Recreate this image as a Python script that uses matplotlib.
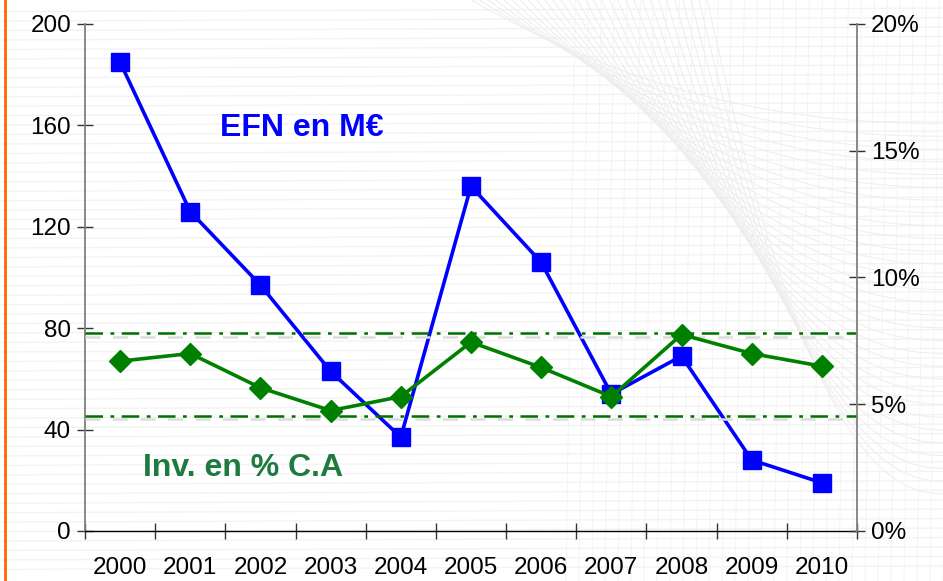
import numpy as np
import matplotlib
matplotlib.use("Agg")
import matplotlib.pyplot as plt
from matplotlib.ticker import FixedLocator, FuncFormatter

plt.rcParams['font.family'] = ['Liberation Sans', 'DejaVu Sans']

years = ['2000', '2001', '2002', '2003', '2004', '2005', '2006', '2007', '2008', '2009', '2010']
efn = [185, 126, 97, 63, 37, 136, 106, 54, 69, 28, 19]
inv_pct = [6.7, 7.0, 5.65, 4.75, 5.3, 7.45, 6.45, 5.3, 7.75, 7.0, 6.5]
band = [7.8, 4.55]
left_ticks = [0, 40, 80, 120, 160, 200]
right_ticks = [0, 5, 10, 15, 20]

fig = plt.figure(figsize=(9.43, 5.81), dpi=100)
fig.patch.set_facecolor('white')

# faint background mesh decoration
bg = fig.add_axes([0, 0, 1, 1], zorder=-10)
bg.set_xlim(0, 1); bg.set_ylim(0, 1); bg.axis('off')
t = np.linspace(0, 1, 200)
for yy in np.linspace(0.02, 0.98, 60):
    bg.plot([0.0, 1.0], [yy, yy + 0.006], color='#f3f3f3', lw=1.0)
for k in np.linspace(0.0, 1.0, 30):
    x0 = 0.50 + 0.25 * k
    xs = x0 + (1.0 - x0) * t
    ys = 1.0 - (0.25 + 0.75 * k) * (1 - (1 - t) ** 2.2) * 0.85
    bg.plot(xs, ys, color='#ededed', lw=0.7)
for k in np.linspace(0.6, 1.0, 30):
    bg.plot([k, k + 0.01], [0, 1.0], color='#f2f2f2', lw=0.6)
bg.plot([0.0055, 0.0055], [0, 1], color='#ff6600', lw=2.0)

ax = fig.add_axes([0.0901, 0.0861, 0.8187, 0.8726])
ax.patch.set_alpha(0)
x = np.arange(len(years))
ax.plot(x, efn, color='#0000ff', lw=2.6, marker='s', markersize=13,
        markerfacecolor='#0000ff', markeredgecolor='#0000ff', zorder=3)
ax.set_xlim(-0.5, len(years) - 0.5)
ax.set_ylim(0, 200)
ax.set_yticks(left_ticks)
ax.set_xticks(x)
ax.set_xticklabels(years)
ax.xaxis.set_minor_locator(FixedLocator(np.arange(-0.5, len(years), 1.0)))
ax.tick_params(axis='x', which='major', length=0, labelsize=17.5, pad=19)
ax.tick_params(axis='x', which='minor', length=12, direction='inout', width=1, color='#333333')
ax.tick_params(axis='y', length=12, direction='inout', width=1, color='#333333', labelsize=17.5, pad=4)
for s in ['top', 'right']:
    ax.spines[s].set_visible(False)
ax.spines['left'].set_color('#808080')
ax.spines['left'].set_linewidth(1.3)
ax.spines['bottom'].set_color('#000000')
ax.spines['bottom'].set_linewidth(1.0)

ax2 = ax.twinx()
ax2.set_ylim(0, 20)
ax2.set_yticks(right_ticks)
ax2.yaxis.set_major_formatter(FuncFormatter(lambda v, p: f"{int(v)}%"))
ax2.tick_params(axis='y', length=12, direction='inout', width=1, color='#333333', labelsize=17.5, pad=4)
for s in ['top', 'left', 'bottom']:
    ax2.spines[s].set_visible(False)
ax2.spines['right'].set_color('#808080')
ax2.spines['right'].set_linewidth(1.3)

for b in band:
    ax2.axhline(b - 0.15, color='#dcdcdc', lw=1.8, ls=(0, (6, 5)), zorder=1)
    ax2.axhline(b, color='#007000', lw=1.8, ls=(0, (7, 3, 1.5, 3)), zorder=2)
ax2.plot(x, inv_pct, color='#008000', lw=2.6, marker='D', markersize=11,
         markerfacecolor='#008000', markeredgecolor='#008000', zorder=4)

ax.text(2.59, 159, 'EFN en M€', color='#0000ff', fontsize=23, fontweight='bold',
        ha='center', va='center')
ax.text(1.75, 25, 'Inv. en % C.A', color='#1e7a3e', fontsize=23, fontweight='bold',
        ha='center', va='center')

fig.savefig('out.png', dpi=100)
